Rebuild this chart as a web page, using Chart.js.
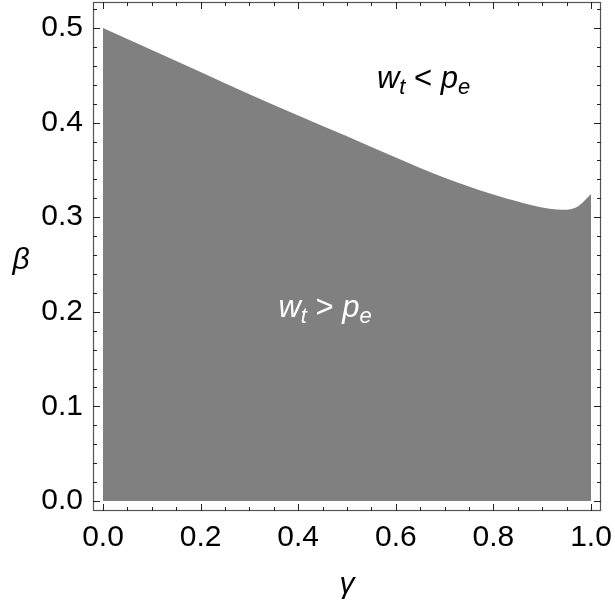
<!DOCTYPE html>
<html>
<head>
<meta charset="utf-8">
<script src="https://cdn.jsdelivr.net/npm/chart.js@4.4.1/dist/chart.umd.min.js"></script>
<style>
  html, body { margin: 0; padding: 0; background: #fff; }
  #wrap { width: 615px; height: 610px; }
</style>
</head>
<body>
<div id="wrap"><canvas id="regiaoChart"></canvas></div>
<script>
// fronteira da regiao (gamma -> beta)
const gammaVals = [0, 0.1, 0.2, 0.3, 0.4, 0.5, 0.6, 0.65, 0.7, 0.75, 0.8, 0.85, 0.9, 0.93, 0.95, 0.97, 0.985, 1.0];
const betaVals  = [0.500, 0.4768, 0.4535, 0.4300, 0.4075, 0.3855, 0.3630, 0.3520, 0.3418, 0.3325, 0.3240, 0.3165, 0.3102, 0.3082, 0.3080, 0.3104, 0.3166, 0.3245];
const xTicks = [0, 0.2, 0.4, 0.6, 0.8, 1.0];
const yTicks = [0, 0.1, 0.2, 0.3, 0.4, 0.5];
const xTitle = 'γ';
const yTitle = 'β';

const fonte = '"Liberation Sans", Arial, sans-serif';

function desenhaRotulo(ctx, cx, y, op, cor) {
    // w_t op p_e, com subscritos
    const big = 'italic 31px ' + fonte, small = 'italic 22px ' + fonte;
    const partes = [
        { t: 'w', f: big, dy: 0 }, { t: 't', f: small, dy: 6 },
        { t: ' ' + op + ' ', f: '31px ' + fonte, dy: 0 },
        { t: 'p', f: big, dy: 0 }, { t: 'e', f: small, dy: 6 }
    ];
    let total = 0;
    partes.forEach(p => { ctx.font = p.f; p.w = ctx.measureText(p.t).width; total += p.w; });
    let x = cx - total / 2;
    ctx.fillStyle = cor;
    ctx.textAlign = 'left';
    ctx.textBaseline = 'alphabetic';
    partes.forEach(p => { ctx.font = p.f; ctx.fillText(p.t, x, y + p.dy); x += p.w; });
}

const molduraPlugin = {
    id: 'moldura',
    afterDatasetsDraw(chart) {
        const ctx = chart.ctx;
        const xs = chart.scales.x, ys = chart.scales.y;
        desenhaRotulo(ctx, xs.getPixelForValue(0.657), ys.getPixelForValue(0.437), '<', '#000');
        desenhaRotulo(ctx, xs.getPixelForValue(0.455), ys.getPixelForValue(0.194), '>', '#fff');
    },
    afterDraw(chart) {
        const ctx = chart.ctx;
        const a = chart.chartArea;
        const xs = chart.scales.x, ys = chart.scales.y;
        ctx.save();
        ctx.strokeStyle = '#555';
        ctx.lineWidth = 1.2;
        ctx.strokeRect(a.left + 0.5, a.top + 0.5, a.right - a.left - 1, a.bottom - a.top - 1);

        ctx.strokeStyle = '#222';
        ctx.lineWidth = 1;
        ctx.beginPath();
        for (let i = 0; i <= 20; i++) {
            const px = Math.round(xs.getPixelForValue(i * 0.05)) + 0.5;
            const len = i % 4 === 0 ? 7 : 4;
            ctx.moveTo(px, a.bottom); ctx.lineTo(px, a.bottom - len);
            ctx.moveTo(px, a.top); ctx.lineTo(px, a.top + len);
        }
        for (let i = 0; i <= 26; i++) {
            const py = Math.round(ys.getPixelForValue(i * 0.02)) + 0.5;
            if (py < a.top + 2) continue;
            const len = i % 5 === 0 ? 7 : 4;
            ctx.moveTo(a.left, py); ctx.lineTo(a.left + len, py);
            ctx.moveTo(a.right, py); ctx.lineTo(a.right - len, py);
        }
        ctx.stroke();

        ctx.fillStyle = '#000';
        ctx.font = 'italic 30px ' + fonte;
        ctx.textAlign = 'center';
        ctx.textBaseline = 'alphabetic';
        ctx.fillText(yTitle, 21, 269);
        ctx.fillText(xTitle, xs.getPixelForValue(0.5), 593);
        ctx.restore();
    }
};

// tira o padding automatico que o Chart.js reserva para os rotulos das pontas
function semPadding(s) {
    s.paddingTop = 0; s.paddingBottom = 0; s.paddingLeft = 0; s.paddingRight = 0;
}

new Chart(document.getElementById('regiaoChart'), {
    type: 'line',
    data: {
        datasets: [{
            data: gammaVals.map((g, i) => ({ x: g, y: betaVals[i] })),
            borderWidth: 0, borderColor: 'rgba(0,0,0,0)',
            backgroundColor: '#808080',
            fill: 'origin', pointRadius: 0,
            cubicInterpolationMode: 'monotone'
        }]
    },
    options: {
        responsive: true, maintainAspectRatio: false, animation: false,
        layout: { padding: { top: 2, right: 14, left: 0, bottom: 0 } },
        plugins: { legend: { display: false }, tooltip: { enabled: false } },
        scales: {
            x: {
                type: 'linear', min: -0.0205, max: 1.0205,
                grid: { display: false, drawTicks: false }, border: { display: false },
                afterBuildTicks: s => { s.ticks = xTicks.map(v => ({ value: v })); },
                afterFit: s => { s.height = 99; semPadding(s); },
                ticks: { color: '#000', padding: 9, maxRotation: 0, font: { family: fonte, size: 30 }, callback: v => v.toFixed(1) }
            },
            y: {
                type: 'linear', min: -0.0106, max: 0.5275,
                grid: { display: false, drawTicks: false }, border: { display: false },
                afterBuildTicks: s => { s.ticks = yTicks.map(v => ({ value: v })); },
                afterFit: s => { s.width = 93; semPadding(s); },
                ticks: { color: '#000', padding: 10, font: { family: fonte, size: 30 }, callback: v => v.toFixed(1) }
            }
        }
    },
    plugins: [molduraPlugin]
});
</script>
</body>
</html>
